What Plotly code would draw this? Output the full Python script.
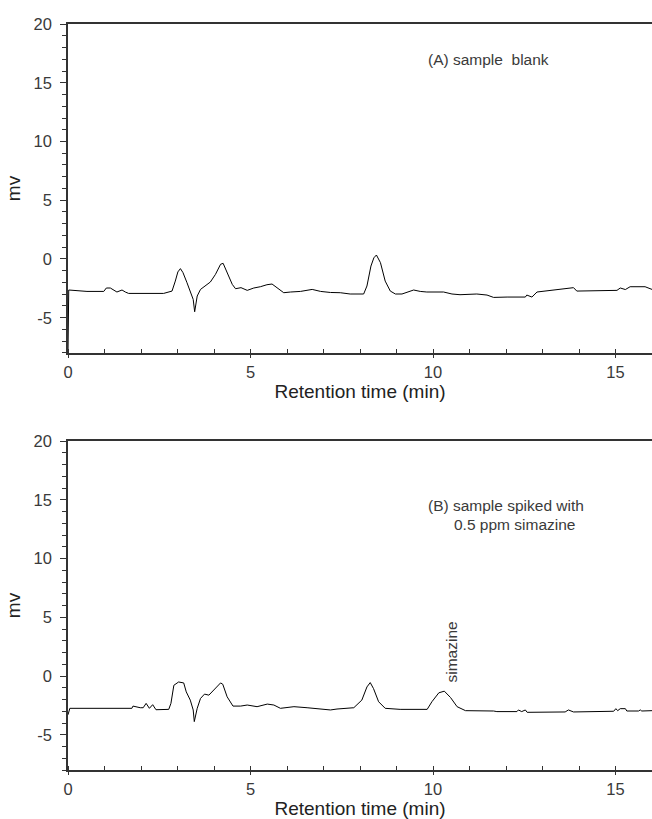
import plotly.graph_objects as go
from plotly.subplots import make_subplots

# Trace A: sample blank (retention time in min, signal in mV)
time_a = [0.0, 0.02, 0.52, 0.98, 1.05, 1.16, 1.34, 1.48, 1.57, 1.66, 2.62, 2.85, 2.94, 3.01, 3.08,
          3.15, 3.26, 3.37, 3.43, 3.47, 3.54, 3.63, 3.77, 3.90, 4.04, 4.18, 4.25, 4.36, 4.50,
          4.59, 4.74, 4.91, 5.09, 5.27, 5.45, 5.59, 5.68, 5.77, 5.91, 6.10, 6.37, 6.69, 6.92,
          7.19, 7.46, 7.73, 8.10, 8.19, 8.30, 8.38, 8.45, 8.56, 8.69, 8.83, 8.97, 9.15, 9.33,
          9.47, 9.65, 9.83, 10.29, 10.52, 10.74, 11.20, 11.48, 11.66, 12.03, 12.53, 12.57,
          12.71, 12.85, 13.31, 13.85, 13.94, 14.22, 15.04, 15.13, 15.27, 15.40, 15.81, 16.0]
mv_a = [-7.9, -2.64, -2.76, -2.76, -2.47, -2.47, -2.81, -2.64, -2.81, -2.93, -2.93, -2.73, -1.88, -1.1, -0.82,
        -1.16, -2.02, -3.01, -3.44, -4.49, -3.15, -2.59, -2.24, -1.96, -1.31, -0.45, -0.37, -1.16, -2.16,
        -2.53, -2.44, -2.67, -2.47, -2.36, -2.19, -2.13, -2.36, -2.53, -2.87, -2.81, -2.76, -2.59, -2.76,
        -2.85, -2.87, -2.98, -2.98, -2.30, -0.6, 0.1, 0.34, -0.31, -1.88, -2.73, -2.98, -2.98, -2.76,
        -2.64, -2.76, -2.81, -2.81, -2.98, -3.04, -2.98, -3.07, -3.27, -3.24, -3.24, -3.07,
        -3.24, -2.81, -2.64, -2.44, -2.73, -2.70, -2.67, -2.47, -2.60, -2.36, -2.36, -2.59]

# Trace B: sample spiked with 0.5 ppm simazine
time_b = [0.0, 0.05, 1.75, 1.78, 1.98, 2.06, 2.14, 2.23, 2.32, 2.41, 2.76, 2.82, 2.90, 3.03, 3.17,
          3.24, 3.35, 3.43, 3.46, 3.54, 3.63, 3.74, 3.86, 3.99, 4.18, 4.24, 4.36, 4.52, 4.73,
          4.91, 5.18, 5.46, 5.64, 5.82, 6.19, 6.55, 7.19, 7.37, 7.83, 8.05, 8.19, 8.28, 8.37,
          8.51, 8.69, 9.10, 9.84, 9.97, 10.16, 10.31, 10.48, 10.66, 10.89, 11.66, 11.75, 12.30,
          12.34, 12.43, 12.53, 12.58, 13.12, 13.62, 13.71, 13.85, 14.95, 15.01, 15.06, 15.13,
          15.27, 15.31, 15.63, 15.68, 15.72, 16.0]
mv_b = [-3.3, -2.75, -2.75, -2.56, -2.70, -2.70, -2.33, -2.75, -2.44, -2.87, -2.84, -2.33, -0.79, -0.51, -0.59,
        -1.35, -2.05, -2.89, -3.88, -2.75, -1.91, -1.54, -1.63, -1.21, -0.59, -0.70, -1.77, -2.56, -2.56,
        -2.47, -2.61, -2.39, -2.47, -2.75, -2.61, -2.70, -2.89, -2.81, -2.70, -2.05, -0.93, -0.56, -1.07,
        -2.19, -2.75, -2.84, -2.84, -2.19, -1.43, -1.29, -1.83, -2.61, -2.95, -2.98, -3.03, -3.03,
        -2.89, -3.03, -2.89, -3.09, -3.06, -3.06, -2.89, -3.06, -3.00, -2.78, -2.95, -2.78,
        -2.78, -2.98, -2.98, -2.89, -2.98, -2.95]

y_tickvals = [-5, 0, 5, 10, 15, 20]
y_ticktext = ["-5", "0", "5", "10", "15", "20"]
x_tickvals = [0, 5, 10, 15]
x_ticktext = ["0", "5", "10", "15"]

FONT = "Liberation Sans, Arial, Helvetica, sans-serif"
TXT = "#3a3a3a"
AX = "#333333"

fig = make_subplots(rows=2, cols=1, vertical_spacing=0.118)
fig.add_trace(go.Scatter(x=time_a, y=mv_a, mode="lines", line=dict(color="black", width=1),
                         showlegend=False), row=1, col=1)
fig.add_trace(go.Scatter(x=time_b, y=mv_b, mode="lines", line=dict(color="black", width=1),
                         showlegend=False), row=2, col=1)

for r in (1, 2):
    fig.update_xaxes(range=[0, 16], tickvals=x_tickvals, ticktext=x_ticktext,
                     showline=True, linecolor=AX, linewidth=1.5, mirror=True,
                     ticks="outside", ticklen=3, tickwidth=1, tickcolor=AX,
                     minor=dict(dtick=1, tick0=0, ticks="inside", ticklen=4, tickcolor=AX, showgrid=False),
                     showgrid=False, zeroline=False,
                     tickfont=dict(family=FONT, size=16.5, color=TXT),
                     title=dict(text="Retention time (min)", font=dict(family=FONT, size=19, color="#222"),
                                standoff=0),
                     row=r, col=1)
    fig.update_yaxes(range=[-8, 20], tickvals=y_tickvals, ticktext=y_ticktext,
                     showline=True, linecolor=AX, linewidth=1.5,
                     ticks="outside", ticklen=6, tickwidth=1, tickcolor=AX,
                     minor=dict(dtick=1, tick0=0, ticks="outside", ticklen=4, tickcolor=AX, showgrid=False),
                     showgrid=False, zeroline=False, ticklabelstandoff=5,
                     tickfont=dict(family=FONT, size=16.5, color=TXT),
                     title=dict(text="mv", font=dict(family=FONT, size=19, color="#222"), standoff=8),
                     row=r, col=1)

fig.add_annotation(x=9.8, y=17.0, xref="x", yref="y", text="(A) sample\u00a0\u00a0blank",
                   showarrow=False, xanchor="left", font=dict(family=FONT, size=15.5, color=TXT))
fig.add_annotation(x=9.81, y=14.5, xref="x2", yref="y2", text="(B) sample spiked with",
                   showarrow=False, xanchor="left", font=dict(family=FONT, size=15.5, color=TXT))
fig.add_annotation(x=10.52, y=12.9, xref="x2", yref="y2", text="0.5 ppm simazine",
                   showarrow=False, xanchor="left", font=dict(family=FONT, size=15.5, color=TXT))
fig.add_annotation(x=10.51, y=2.05, xref="x2", yref="y2", text="simazine", textangle=-90,
                   showarrow=False, font=dict(family=FONT, size=15.5, color=TXT))

fig.update_layout(width=652, height=819, margin=dict(l=68, r=0, t=24, b=49),
                  paper_bgcolor="white", plot_bgcolor="white", showlegend=False)

fig.write_html("out.html")
